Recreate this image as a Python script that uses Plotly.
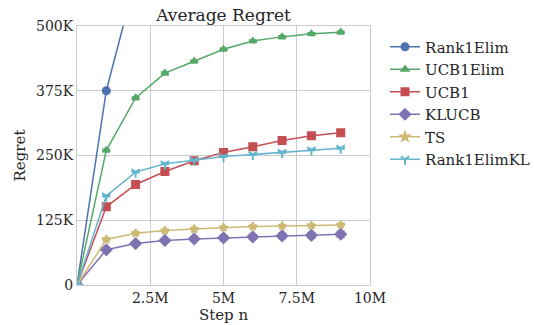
import plotly.graph_objects as go

steps = [0, 1e6, 2e6, 3e6, 4e6, 5e6, 6e6, 7e6, 8e6, 9e6]
series_names = ["Rank1Elim", "UCB1Elim", "UCB1", "KLUCB", "TS", "Rank1ElimKL"]
rank1elim = [0, 375e3, 592e3, 700e3, 780e3, 840e3, 890e3, 930e3, 960e3, 985e3]
ucb1elim = [0, 260e3, 361e3, 409e3, 432e3, 455e3, 471e3, 479e3, 485e3, 488e3]
ucb1 = [0, 151e3, 194e3, 219e3, 240e3, 256e3, 267e3, 279e3, 288e3, 294e3]
klucb = [0, 68e3, 80e3, 86e3, 89e3, 91e3, 93e3, 95e3, 96e3, 98e3]
ts = [0, 88e3, 100e3, 105e3, 108e3, 111e3, 113e3, 114e3, 115e3, 116e3]
rank1elimkl = [0, 172e3, 218e3, 234e3, 241e3, 248e3, 252e3, 256e3, 261e3, 264e3]
err_rank1elim = [0, 2e3, 3e3, 3e3, 3e3, 3e3, 3e3, 3e3, 3e3, 3e3]
err_ucb1elim = [0, 2e3, 2e3, 2e3, 2e3, 2e3, 2e3, 2e3, 2e3, 2e3]
err_ucb1 = [0, 1.5e3, 1.5e3, 1.5e3, 1.5e3, 1.5e3, 1.5e3, 1.5e3, 1.5e3, 1.5e3]
err_klucb = [0, 2e3, 2.5e3, 3e3, 3.5e3, 4e3, 4.5e3, 5e3, 5.5e3, 6e3]
err_ts = [0, 1e3, 1e3, 1e3, 1e3, 1e3, 1e3, 1e3, 1e3, 1e3]
err_rank1elimkl = [0, 1.5e3, 1.5e3, 1.5e3, 1.5e3, 1.5e3, 1.5e3, 1.5e3, 1.5e3, 1.5e3]
y_ticks = [0, 125e3, 250e3, 375e3, 500e3]
y_labels = ["0", "125K", "250K", "375K", "500K"]
x_ticks = [2.5e6, 5e6, 7.5e6, 10e6]
x_labels = ["2.5M", "5M", "7.5M", "10M"]

colors = ["#4C72B0", "#55A868", "#C44E52", "#8172B2", "#CCB974", "#64B5CD"]
symbols = ["circle", "triangle-up", "square", "diamond", "star", "y-down"]
sizes = [7, 6, 7, 8, 6, 7]
values = [rank1elim, ucb1elim, ucb1, klucb, ts, rank1elimkl]
errors = [err_rank1elim, err_ucb1elim, err_ucb1, err_klucb, err_ts, err_rank1elimkl]

fig = go.Figure()
for name, vals, errs, c, s, sz in zip(series_names, values, errors, colors, symbols, sizes):
    fig.add_trace(go.Scatter(
        x=steps, y=vals, name=name, mode="lines+markers",
        line=dict(color=c, width=1.5),
        marker=dict(color=c, symbol=s, size=sz, line=dict(color=c, width=2)),
        error_y=dict(type="data", array=errs, color=c, thickness=1.5, width=4),
        cliponaxis=True,
    ))

font = "DejaVu Serif"
fig.update_layout(
    width=534, height=325,
    margin=dict(l=77, r=164, t=26, b=40),
    paper_bgcolor="white", plot_bgcolor="white",
    font=dict(family=font, size=14, color="#262626"),
    title=dict(text="Average Regret", x=(77 + 370) / 2 / 534, xanchor="center",
               y=1 - 15 / 325, yanchor="middle", font=dict(family=font, size=17)),
    legend=dict(xref="container", yref="container", x=385 / 534, y=1 - 30.5 / 325,
                xanchor="left", yanchor="top",
                font=dict(family=font, size=15), bgcolor="rgba(0,0,0,0)", tracegroupgap=0,
                itemwidth=30),
    showlegend=True,
)
fig.update_xaxes(range=[0, 10e6], tickvals=x_ticks, ticktext=x_labels, automargin=False,
                 tickfont=dict(family=font, size=14),
                 showgrid=True, gridcolor="#cccccc", gridwidth=1,
                 showline=True, linecolor="#cccccc", linewidth=1, mirror=True,
                 zeroline=False, ticks="",
                 title=dict(text="Step n", standoff=0, font=dict(family=font, size=15)))
fig.update_yaxes(range=[0, 500e3], tickvals=y_ticks, ticktext=y_labels, automargin=False,
                 tickfont=dict(family=font, size=14),
                 showgrid=True, gridcolor="#cccccc", gridwidth=1,
                 showline=True, linecolor="#cccccc", linewidth=1, mirror=True,
                 zeroline=False, ticks="",
                 title=dict(text="Regret", standoff=6, font=dict(family=font, size=15)))

fig.write_html("out.html", config={"displayModeBar": False},
               post_script="document.body.style.margin='0px';")
